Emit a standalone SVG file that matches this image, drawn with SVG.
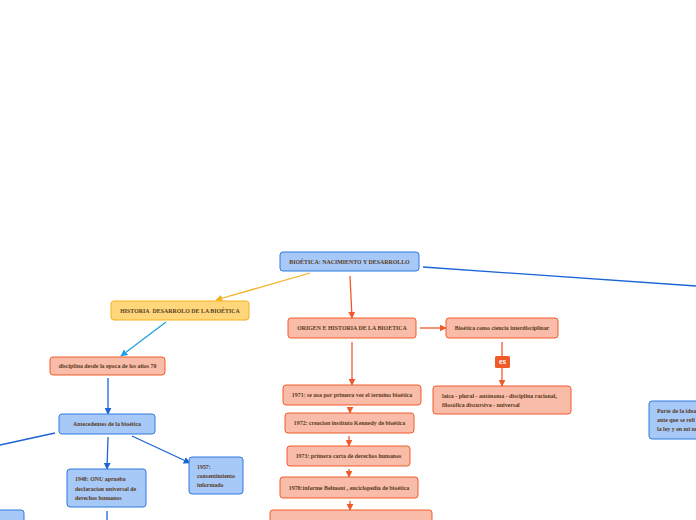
<svg xmlns="http://www.w3.org/2000/svg" width="696" height="520" viewBox="0 0 696 520">
<defs>
<marker id="aO" viewBox="0 0 10 10" refX="9" refY="5" markerWidth="7" markerHeight="7" markerUnits="userSpaceOnUse" orient="auto"><path d="M0,0L10,5L0,10z" fill="#f05a28"/></marker>
<marker id="aB" viewBox="0 0 10 10" refX="9" refY="5" markerWidth="7" markerHeight="7" markerUnits="userSpaceOnUse" orient="auto"><path d="M0,0L10,5L0,10z" fill="#1a64d6"/></marker>
<marker id="aL" viewBox="0 0 10 10" refX="9" refY="5" markerWidth="7" markerHeight="7" markerUnits="userSpaceOnUse" orient="auto"><path d="M0,0L10,5L0,10z" fill="#1fa0e8"/></marker>
<marker id="aY" viewBox="0 0 10 10" refX="9" refY="5" markerWidth="7" markerHeight="7" markerUnits="userSpaceOnUse" orient="auto"><path d="M0,0L10,5L0,10z" fill="#f5b01e"/></marker>
</defs>
<style>
.b rect{fill:#a6c9f8;stroke:#2f78e0;stroke-width:1}
.o rect{fill:#f9bca8;stroke:#f05a28;stroke-width:1}
.y rect{fill:#ffd77a;stroke:#f5b01e;stroke-width:1}
text{font-family:"Liberation Serif","DejaVu Serif",serif;font-weight:bold;font-size:5.9px;fill:#5a3b1e}
.c{text-anchor:middle}
.lo{stroke:#f05a28;stroke-width:1.3;fill:none}
.lb{stroke:#1a64d6;stroke-width:1.3;fill:none}
.ll{stroke:#1fa0e8;stroke-width:1.3;fill:none}
.ly{stroke:#f5b01e;stroke-width:1.3;fill:none}
</style>
<rect width="696" height="520" fill="#ffffff"/>
<g id="connectors">
<line class="lb" x1="423" y1="267" x2="696" y2="286"/>
<line class="ly" x1="310" y1="273" x2="216" y2="300" marker-end="url(#aY)"/>
<line class="lo" x1="350" y1="276" x2="352" y2="318" marker-end="url(#aO)"/>
<line class="ll" x1="166" y1="322" x2="121" y2="356" marker-end="url(#aL)"/>
<line class="lb" x1="108" y1="378" x2="108" y2="414" marker-end="url(#aB)"/>
<line class="lb" x1="55" y1="433" x2="0" y2="445"/>
<line class="lb" x1="108" y1="437" x2="107" y2="469" marker-end="url(#aB)"/>
<line class="lb" x1="132" y1="436" x2="190" y2="463" marker-end="url(#aB)"/>
<line class="lb" x1="107" y1="511" x2="107" y2="520"/>
<line class="lo" x1="420" y1="328" x2="446" y2="328" marker-end="url(#aO)"/>
<line class="lo" x1="502" y1="342" x2="502" y2="386" marker-end="url(#aO)"/>
<line class="lo" x1="352" y1="342" x2="352" y2="385" marker-end="url(#aO)"/>
<line class="lo" x1="350" y1="407" x2="350" y2="413" marker-end="url(#aO)"/>
<line class="lo" x1="349" y1="436" x2="349" y2="446" marker-end="url(#aO)"/>
<line class="lo" x1="349" y1="469" x2="349" y2="477" marker-end="url(#aO)"/>
<line class="lo" x1="350" y1="501" x2="350" y2="510" marker-end="url(#aO)"/>
<g id="label-es"><rect x="495" y="356" width="15" height="12" rx="1.5" fill="#f05a28"/><text x="502.5" y="364.2" class="c" style="fill:#ffffff;font-family:'Liberation Sans',sans-serif;font-size:6.5px">es</text></g>
</g>
<g id="n-main" class="b"><rect x="280" y="252" width="139" height="19" rx="3"/><text class="c" x="349.5" y="264">BIOÉTICA: NACIMIENTO Y DESARROLLO</text></g>
<g id="n-historia" class="y"><rect x="111" y="301" width="138" height="19" rx="3"/><text class="c" x="180" y="313">HISTORIA&#160; DESARROLO DE LA BIOÉTICA</text></g>
<g id="n-disciplina" class="o"><rect x="50" y="357" width="115" height="18" rx="3"/><text class="c" x="107.5" y="368">disciplina desde la epoca de los años 70</text></g>
<g id="n-antecedentes" class="b"><rect x="59" y="414" width="96" height="20" rx="3"/><text class="c" x="107" y="426">Antecedentes de la bioética</text></g>
<g id="n-1948" class="b"><rect x="67" y="469" width="79" height="38" rx="3"/><text x="75" y="481">1948: ONU aprueba</text><text x="75" y="490.5">declaracion universal de</text><text x="75" y="500">derechos humanos</text></g>
<g id="n-1957" class="b"><rect x="189" y="457" width="54" height="37" rx="3"/><text x="197" y="469">1957:</text><text x="197" y="478">consentimiento</text><text x="197" y="487">informado</text></g>
<g id="n-left" class="b"><rect x="-10" y="510" width="34" height="20" rx="3"/></g>
<g id="n-origen" class="o"><rect x="288" y="318" width="128" height="20" rx="3"/><text class="c" x="352" y="330">ORIGEN E HISTORIA DE LA BIOETICA</text></g>
<g id="n-ciencia" class="o"><rect x="446" y="318" width="112" height="20" rx="3"/><text class="c" x="502" y="330">Bioética como ciencia interdisciplinar</text></g>
<g id="n-laica" class="o"><rect x="433" y="386" width="138" height="28" rx="3"/><text x="442" y="398">laica - plural - autónoma - disciplina racional,</text><text x="442" y="407">filosófica discursiva - universal</text></g>
<g id="n-1971" class="o"><rect x="283" y="385" width="138" height="20" rx="3"/><text class="c" x="352" y="397">1971: se usa por primera vez el termino bioética</text></g>
<g id="n-1972" class="o"><rect x="285" y="413" width="129" height="20" rx="3"/><text class="c" x="349.5" y="425">1972: creacion instituto Kennedy de bioética</text></g>
<g id="n-1973" class="o"><rect x="287" y="446" width="123" height="20" rx="3"/><text class="c" x="348.5" y="458">1973: primera carta de derechos humanos</text></g>
<g id="n-1978" class="o"><rect x="280" y="477" width="138" height="21" rx="3"/><text class="c" x="349" y="489.5">1978:informe Belmont , enciclopedia de bioética</text></g>
<g id="n-1979" class="o"><rect x="270" y="510" width="162" height="20" rx="3"/></g>
<g id="n-parte" class="b"><rect x="649" y="401" width="60" height="38" rx="3"/><text x="657" y="413">Parte de la idea</text><text x="657" y="422">ante que se refi</text><text x="657" y="431">la ley y en mi m</text></g>
</svg>
